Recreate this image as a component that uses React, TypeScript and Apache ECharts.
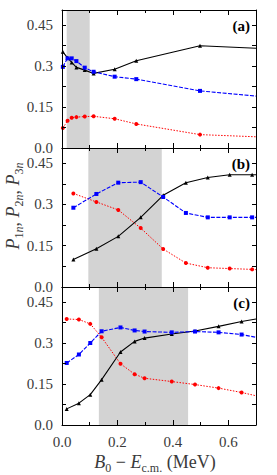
import React, { useEffect, useRef } from "react";
import * as echarts from "echarts";

// ---- data ----
const xA = [0.003, 0.02, 0.035, 0.052, 0.082, 0.114, 0.19, 0.268, 0.498, 0.7];
const p1A = [0.352, 0.33, 0.313, 0.295, 0.285, 0.273, 0.288, 0.319, 0.374, 0.365];
const p2A = [0.297, 0.328, 0.328, 0.318, 0.294, 0.279, 0.261, 0.252, 0.209, 0.19];
const p3A = [0.073, 0.1, 0.111, 0.113, 0.115, 0.116, 0.107, 0.088, 0.049, 0.041];

const xB = [0.041, 0.124, 0.203, 0.284, 0.365, 0.447, 0.526, 0.605, 0.686, 0.7];
const p1B = [0.1, 0.139, 0.184, 0.253, 0.333, 0.379, 0.398, 0.408, 0.408, 0.408];
const p2B = [0.288, 0.338, 0.379, 0.381, 0.327, 0.269, 0.253, 0.253, 0.253, 0.253];
const p3B = [0.34, 0.309, 0.28, 0.214, 0.138, 0.087, 0.07, 0.067, 0.064, 0.063];

const xC = [0.017, 0.061, 0.102, 0.143, 0.211, 0.262, 0.298, 0.396, 0.48, 0.565, 0.648, 0.7];
const p1C = [0.059, 0.08, 0.111, 0.166, 0.267, 0.306, 0.318, 0.333, 0.344, 0.361, 0.379, 0.388];
const p2C = [0.227, 0.258, 0.3, 0.343, 0.357, 0.346, 0.342, 0.339, 0.342, 0.339, 0.331, 0.321];
const p3C = [0.388, 0.386, 0.37, 0.321, 0.224, 0.186, 0.171, 0.159, 0.148, 0.135, 0.119, 0.107];

const shadeA = [0.017, 0.1];
const shadeB = [0.095, 0.36];
const shadeC = [0.133, 0.455];

const panelLabels = ["(a)", "(b)", "(c)"];
const yTickLabels = ["0.0", "0.15", "0.3", "0.45"];
const xTickLabels = ["0.0", "0.2", "0.4", "0.6"];

const FONT = "'Liberation Serif', 'DejaVu Serif', 'Times New Roman', serif";
const TXT = "#3a3a3a";

export default function App() {
  const ref = useRef<HTMLDivElement>(null);

  useEffect(() => {
    const chart = echarts.init(ref.current!, null, { renderer: "svg" });

    const L = 62;
    const W = 194;
    const tops = [10, 148, 287];
    const heights = [138, 139, 138];
    const YMAX = 0.505;
    const XMAX = 0.7;

    const panels = [
      { x: xA, p1: p1A, p2: p2A, p3: p3A, shade: shadeA },
      { x: xB, p1: p1B, p2: p2B, p3: p3B, shade: shadeB },
      { x: xC, p1: p1C, p2: p2C, p3: p3C, shade: shadeC },
    ];

    const grid: any[] = [];
    const xAxis: any[] = [];
    const yAxis: any[] = [];
    const series: any[] = [];
    const graphic: any[] = [];

    const axisLine = { show: true, onZero: false, lineStyle: { color: "#000", width: 1 } };

    const yLabel = (v: number) => {
      const r = Math.round(v * 1000) / 1000;
      const idx = [0, 0.15, 0.3, 0.45].indexOf(r);
      return idx >= 0 ? yTickLabels[idx] : "";
    };
    const xLabel = (v: number) => {
      const r = Math.round(v * 1000) / 1000;
      const idx = [0, 0.2, 0.4, 0.6].indexOf(r);
      return idx >= 0 ? xTickLabels[idx] : "";
    };

    // the last point of each list sits on the right frame edge: no marker there
    const mkData = (xs: number[], ys: number[]) =>
      xs.map((x, k) =>
        k === xs.length - 1 ? { value: [x, ys[k]], symbol: "none" } : { value: [x, ys[k]] }
      );

    panels.forEach((p, i) => {
      const g = grid.length;
      const box = { left: L, width: W, top: tops[i], height: heights[i] };
      grid.push({ ...box });
      grid.push({ ...box });
      const isLast = i === panels.length - 1;

      const xb = xAxis.length;
      xAxis.push({
        type: "value", gridIndex: g, position: "bottom", min: 0, max: XMAX, interval: 0.2, z: 10,
        axisLine, splitLine: { show: false },
        axisTick: { show: true, inside: true, length: 5, lineStyle: { color: "#000", width: 1 } },
        axisLabel: {
          show: isLast, formatter: xLabel, margin: 9, color: TXT, fontFamily: FONT, fontSize: 15,
          showMaxLabel: false,
        },
      });
      xAxis.push({
        type: "value", gridIndex: g, position: "top", min: 0, max: XMAX, interval: 0.2, z: 10,
        axisLine, splitLine: { show: false },
        axisTick: { show: true, inside: true, length: 5, lineStyle: { color: "#000", width: 1 } },
        axisLabel: { show: false },
      });
      const yl = yAxis.length;
      yAxis.push({
        type: "value", gridIndex: g, position: "left", min: 0, max: YMAX, interval: 0.075, z: 10,
        axisLine, splitLine: { show: false },
        axisTick: { show: true, inside: true, length: 4, lineStyle: { color: "#000", width: 1 } },
        axisLabel: { show: true, formatter: yLabel, margin: 9, color: TXT, fontFamily: FONT, fontSize: 15 },
      });
      yAxis.push({
        type: "value", gridIndex: g, position: "right", min: 0, max: YMAX, interval: 0.075, z: 10,
        axisLine, splitLine: { show: false },
        axisTick: { show: true, inside: true, length: 4, lineStyle: { color: "#000", width: 1 } },
        axisLabel: { show: false },
      });

      xAxis.push({
        type: "value", gridIndex: g + 1, position: "bottom", min: 0, max: XMAX, interval: 0.1, z: 10,
        axisLine: { show: false }, splitLine: { show: false },
        axisTick: { show: true, inside: true, length: 3, lineStyle: { color: "#000", width: 1 } },
        axisLabel: { show: false },
      });
      xAxis.push({
        type: "value", gridIndex: g + 1, position: "top", min: 0, max: XMAX, interval: 0.1, z: 10,
        axisLine: { show: false }, splitLine: { show: false },
        axisTick: { show: true, inside: true, length: 3, lineStyle: { color: "#000", width: 1 } },
        axisLabel: { show: false },
      });
      yAxis.push({ type: "value", gridIndex: g + 1, min: 0, max: YMAX, show: false });

      series.push({
        type: "line", xAxisIndex: xb, yAxisIndex: yl, data: [], z: 0, silent: true,
        markArea: {
          silent: true,
          itemStyle: { color: "#d3d3d3", opacity: 1 },
          data: [[{ xAxis: p.shade[0] }, { xAxis: p.shade[1] }]],
        },
      });

      const common = { type: "line", xAxisIndex: xb, yAxisIndex: yl, showSymbol: true, clip: true };
      series.push({
        ...common, z: 3, data: mkData(p.x, p.p3),
        symbol: "circle", symbolSize: 4,
        itemStyle: { color: "#ff0000" },
        lineStyle: { color: "#ff0000", width: 1, type: [1.5, 1.5] },
      });
      series.push({
        ...common, z: 4, data: mkData(p.x, p.p1),
        symbol: "triangle", symbolSize: 4,
        itemStyle: { color: "#000" },
        lineStyle: { color: "#000", width: 1.1, type: "solid" },
      });
      series.push({
        ...common, z: 5, data: mkData(p.x, p.p2),
        symbol: "rect", symbolSize: 4,
        itemStyle: { color: "#0000ff" },
        lineStyle: { color: "#0000ff", width: 1.1, type: [4, 1.5] },
      });

      graphic.push({
        type: "text", x: 250, y: tops[i] + 16, z: 20,
        style: {
          text: panelLabels[i], fill: "#000", fontFamily: FONT, fontWeight: "bold",
          fontSize: 15, align: "right", verticalAlign: "middle",
        },
      });
    });

    graphic.push({
      type: "text", x: 13, y: 206, rotation: Math.PI / 2, z: 20,
      style: {
        text: "{i|P}{s|1}{si|n}{n|, }{i|P}{s|2}{si|n}{n|, }{i|P}{s|3}{si|n}",
        align: "center", verticalAlign: "middle", fill: TXT, fontFamily: FONT,
        rich: {
          i: { fontFamily: FONT, fontStyle: "italic", fontSize: 18, fill: TXT, verticalAlign: "bottom" },
          n: { fontFamily: FONT, fontSize: 18, fill: TXT, verticalAlign: "bottom" },
          s: { fontFamily: FONT, fontSize: 12, fill: TXT, verticalAlign: "bottom", padding: [0, 0, -3, 0] },
          si: { fontFamily: FONT, fontStyle: "italic", fontSize: 12, fill: TXT, verticalAlign: "bottom", padding: [0, 0, -3, 0] },
        },
      },
    });

    graphic.push({
      type: "text", x: 155, y: 462, z: 20,
      style: {
        text: "{i|B}{s|0}{n| − }{i|E}{s|c.m.}{n| (MeV)}",
        align: "center", verticalAlign: "middle", fill: TXT, fontFamily: FONT,
        rich: {
          i: { fontFamily: FONT, fontStyle: "italic", fontSize: 18, fill: TXT, verticalAlign: "bottom" },
          n: { fontFamily: FONT, fontSize: 18, fill: TXT, verticalAlign: "bottom" },
          s: { fontFamily: FONT, fontSize: 12, fill: TXT, verticalAlign: "bottom", padding: [0, 0, -3, 0] },
        },
      },
    });

    chart.setOption({
      animation: false,
      backgroundColor: "#fff",
      grid,
      xAxis,
      yAxis,
      series,
      graphic,
    });

    return () => chart.dispose();
  }, []);

  return (
    <div
      ref={ref}
      style={{ position: "fixed", left: 0, top: 0, width: 277, height: 475, background: "#fff" }}
    />
  );
}
